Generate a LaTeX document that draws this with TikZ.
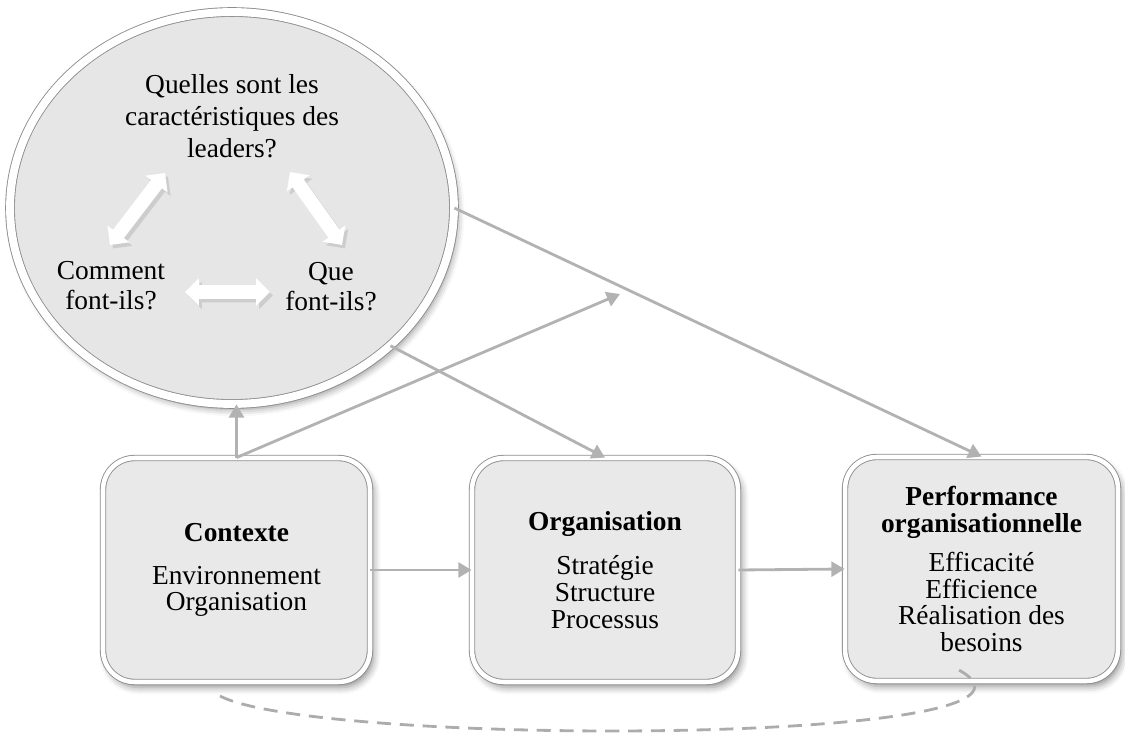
\documentclass[tikz,border=0pt]{standalone}
\usepackage{fontspec}
\setmainfont{Liberation Serif}
\usetikzlibrary{arrows.meta,shapes.geometric,shapes.arrows,shadows.blur}
\definecolor{linkgray}{RGB}{178,178,178}
\definecolor{panelfill}{RGB}{233,233,233}
\definecolor{bubblefill}{RGB}{230,230,230}
\definecolor{rimgray}{RGB}{140,140,140}
\definecolor{dashgray}{RGB}{172,172,172}
\definecolor{swapshadow}{RGB}{150,150,150}

\begin{document}
\begin{tikzpicture}[x=0.02cm,y=-0.02cm,
  softshadow/.style={blur shadow={shadow xshift=2pt,shadow yshift=-3pt,shadow blur radius=4pt,shadow opacity=45}},
  panel/.style={rectangle, rounded corners=18pt, minimum height=4.48cm,
    fill=panelfill, draw=rimgray, line width=0.5pt, double=white, double distance=2.6pt,
    softshadow, align=center, inner sep=0pt, font=\fontsize{15.6}{15.3}\selectfont},
  bubble/.style={ellipse, minimum width=8.88cm, minimum height=7.84cm,
    fill=bubblefill, draw=rimgray, line width=0.5pt, double=white, double distance=4.5pt,
    softshadow, inner sep=0pt},
  qtext/.style={align=center, inner sep=0pt},
  link/.style={draw=linkgray, line width=1.6pt, -{Triangle[length=7.5pt,width=8.5pt]}},
  swap/.style={double arrow, fill=white, inner xsep=0pt, inner ysep=3.7pt,
    double arrow head extend=4pt, outer sep=0pt},
  swapshade/.style={swap, fill=swapshadow, opacity=0.3},
]
\useasboundingbox (0,0) rectangle (1125,742);

% leadership bubble
\node[bubble] (lead) at (232,208) {};
\node[qtext, font=\fontsize{15.6}{18.1}\selectfont] (qcar) at (232,116)
  {Quelles sont les\\caractéristiques des\\leaders?};
\node[qtext, font=\fontsize{15.6}{17}\selectfont] (qhow) at (111,286) {Comment\\font-ils?};
\node[qtext, font=\fontsize{15.6}{17}\selectfont] (qwhat) at (331,287) {Que\\font-ils?};

% white double arrows between the three questions, with a soft shade
\node[swapshade, minimum height=1.81cm, rotate=52.6] (slsh) at (140.5,212.5) {};
\node[swapshade, minimum height=1.79cm, rotate=-54.5] (srsh) at (319,212) {};
\node[swapshade, minimum height=1.70cm] (shsh) at (230.5,295.5) {};
\node[swap, minimum height=1.81cm, rotate=52.6] (sl) at (137.5,209) {};
\node[swap, minimum height=1.79cm, rotate=-54.5] (sr) at (316,208.5) {};
\node[swap, minimum height=1.70cm] (sh) at (227.5,292) {};

% the three stages
\node[panel, minimum width=5.34cm] (ctx) at (236.5,570)
  {\textbf{Contexte}\\[9pt]Environnement\\Organisation};
\node[panel, minimum width=5.32cm] (org) at (605,570)
  {\textbf{Organisation}\\[9.5pt]Stratégie\\Structure\\Processus};
\node[panel, minimum width=5.46cm] (perf) at (981.5,569)
  {\textbf{Performance}\\\textbf{organisationnelle}\\[7pt]Efficacité\\Efficience\\Réalisation des\\besoins};

% influence links
\coordinate (mid) at (620,294);
\draw[link] (ctx.north) -- (lead.south -| ctx.north);
\draw[link] (ctx.north) -- (mid);
\draw[link] (lead.-41) -- (org.north);
\draw[link] (lead.east) -- (perf.north);
\draw[link] (ctx.east) -- (org.west);
\draw[link] (org.east) -- (perf.west);

% feedback loop
\coordinate (loopA) at (220,696);
\coordinate (loopB) at (953,667);
\draw[dashgray, line width=1.6pt, dash pattern=on 8pt off 5pt]
  (loopA) .. controls (320,748) and (1115,745) .. (loopB);
\end{tikzpicture}
\end{document}
